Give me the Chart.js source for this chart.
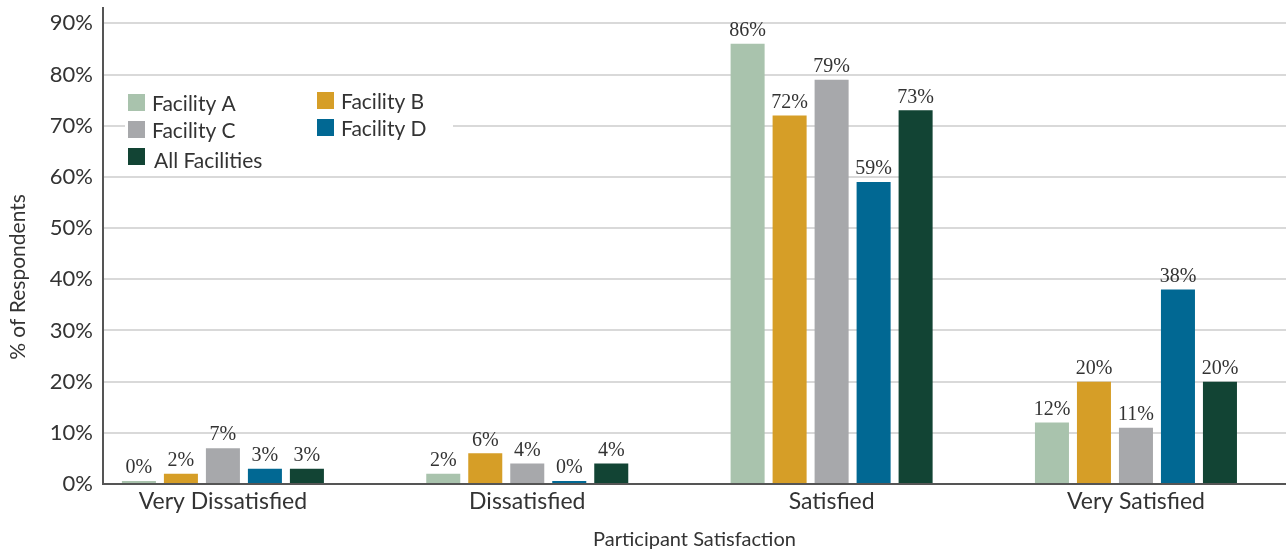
<!DOCTYPE html>
<html>
<head>
<meta charset="utf-8">
<script src="https://cdn.jsdelivr.net/npm/chart.js@4"></script>
<style>
  html, body { margin: 0; padding: 0; background: #fff; overflow: hidden; }
  #wrap { width: 1286px; height: 554px; position: relative; }
</style>
</head>
<body>
<div id="wrap"><canvas id="chart"></canvas></div>
<script>
// Participant satisfaction by facility (% of respondents)
var categories = ['Very Dissatisfied', 'Dissatisfied', 'Satisfied', 'Very Satisfied'];
var seriesNames = ['Facility A', 'Facility B', 'Facility C', 'Facility D', 'All Facilities'];
var facilityA = [0, 2, 86, 12];
var facilityB = [2, 6, 72, 20];
var facilityC = [7, 4, 79, 11];
var facilityD = [3, 0, 59, 38];
var allFacilities = [3, 4, 73, 20];
var yTicks = [0, 10, 20, 30, 40, 50, 60, 70, 80, 90];

var seriesValues = [facilityA, facilityB, facilityC, facilityD, allFacilities];
var seriesColors = ['#a9c3ad', '#d69e27', '#a7a8ab', '#016893', '#124434'];

var SANS = 'Lato, "Open Sans", sans-serif';
var SERIF = '"Liberation Serif", serif';
var TEXT = '#333333';

// bars sit on a linear x scale (one unit per category) so the groups can be placed freely
var datasets = seriesValues.map(function (vals, i) {
    return {
        label: seriesNames[i],
        data: vals.map(function (v, j) { return { x: j, y: v }; }),
        backgroundColor: seriesColors[i],
        categoryPercentage: 0.69,
        barPercentage: 0.81,
        minBarLength: 3
    };
});

// value labels above each bar
var barLabels = {
    id: 'barLabels',
    afterDatasetsDraw: function (chart) {
        var ctx = chart.ctx;
        ctx.save();
        ctx.font = '20px ' + SERIF;
        ctx.fillStyle = TEXT;
        ctx.textAlign = 'center';
        ctx.textBaseline = 'bottom';
        chart.data.datasets.forEach(function (ds, i) {
            chart.getDatasetMeta(i).data.forEach(function (bar, j) {
                ctx.fillText(ds.data[j].y + '%', bar.x, bar.y - 3);
            });
        });
        ctx.restore();
    }
};

// two-column legend on a white panel inside the plot
var boxLegend = {
    id: 'boxLegend',
    afterDraw: function (chart) {
        var ctx = chart.ctx;
        var slots = [
            { x: 128, y: 94 }, { x: 317, y: 92 },
            { x: 128, y: 121 }, { x: 317, y: 119 },
            { x: 128, y: 148 }
        ];
        ctx.save();
        ctx.fillStyle = '#ffffff';
        ctx.fillRect(125, 84, 328, 88);
        ctx.font = '21px ' + SANS;
        ctx.textBaseline = 'alphabetic';
        ctx.textAlign = 'left';
        seriesNames.forEach(function (name, i) {
            var s = slots[i];
            ctx.fillStyle = seriesColors[i];
            ctx.fillRect(s.x, s.y, 17, 17);
            ctx.fillStyle = TEXT;
            ctx.fillText(name, s.x + 24 + (i === 4 ? 2 : 0), s.y + (i === 4 ? 20 : 17));
        });
        ctx.restore();
    }
};

// rotated y-axis title
var yTitle = {
    id: 'yTitle',
    afterDraw: function (chart) {
        var ctx = chart.ctx;
        ctx.save();
        ctx.translate(18, 277);
        ctx.rotate(-Math.PI / 2);
        ctx.font = '21px ' + SANS;
        ctx.fillStyle = TEXT;
        ctx.textAlign = 'center';
        ctx.textBaseline = 'middle';
        ctx.fillText('% of Respondents', 0, 0);
        ctx.restore();
    }
};

var chart = new Chart(document.getElementById('chart'), {
    type: 'bar',
    data: { datasets: datasets },
    options: {
        responsive: true, maintainAspectRatio: false, animation: false,
        layout: { padding: { top: 8, left: 0, right: 0, bottom: 0 } },
        plugins: { legend: { display: false }, tooltip: { enabled: false } },
        scales: {
            x: {
                type: 'linear',
                offset: false,
                min: -0.394, max: 3.493,
                afterBuildTicks: function (scale) {
                    scale.ticks = categories.map(function (c, i) { return { value: i }; });
                },
                afterFit: function (scale) {
                    scale.height = 70;
                    scale.paddingLeft = 0; scale.paddingRight = 0;
                },
                ticks: {
                    autoSkip: false, maxRotation: 0, padding: 4,
                    color: TEXT, font: { family: SANS, size: 23 },
                    callback: function (v) { return categories[v]; }
                },
                grid: { drawOnChartArea: false, drawTicks: false },
                border: { display: true, color: '#555555', width: 2 },
                title: {
                    display: true, text: 'Participant Satisfaction',
                    color: TEXT, font: { family: SANS, size: 20 },
                    padding: { top: 4, bottom: 2 }
                }
            },
            y: {
                min: 0, max: 93,
                afterBuildTicks: function (scale) {
                    scale.ticks = yTicks.map(function (v) { return { value: v }; });
                },
                afterFit: function (scale) {
                    scale.width = 103;
                    scale.paddingTop = 0; scale.paddingBottom = 0;
                },
                ticks: {
                    padding: 10, color: TEXT, font: { family: SANS, size: 22 },
                    callback: function (v) { return v + '%'; }
                },
                grid: { color: '#d9d9d9', lineWidth: 2, drawTicks: false },
                border: { display: true, color: '#555555', width: 2 }
            }
        }
    },
    plugins: [barLabels, boxLegend, yTitle]
});
</script>
</body>
</html>
